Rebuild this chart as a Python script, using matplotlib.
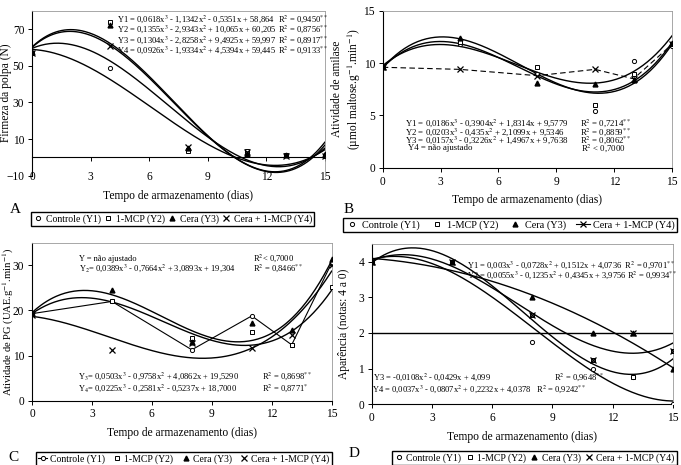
import numpy as np
import matplotlib
matplotlib.use('Agg')
import matplotlib.pyplot as plt
from matplotlib.lines import Line2D

plt.rcParams['font.family'] = ['Liberation Serif', 'DejaVu Serif']
plt.rcParams['mathtext.fontset'] = 'stix'

days = [0, 4, 8, 11, 13, 15]
xticks = [0, 3, 6, 9, 12, 15]

# Panel A - firmeza da polpa (N)
a_y1 = [57, 49, 4.5, 3, 1.5, 1.5]
a_y2 = [57, 74, 3.5, 3.5, 1.5, 1]
a_y3 = [57.5, 72, 5, 2, 1.5, 2]
a_y4 = [57, 61, 5.5, 3, 1, 1]
a_coef = [[0.0618, -1.1342, -0.5351, 58.864],
          [0.1355, -2.9343, 10.065, 60.205],
          [0.1304, -2.8258, 9.4925, 59.997],
          [0.0926, -1.9334, 4.5394, 59.445]]

# Panel B - atividade de amilase
b_y1 = [9.6, 11.8, 9.0, 5.4, 10.2, 11.6]
b_y2 = [9.6, 12.0, 9.6, 6.0, 9.0, 11.8]
b_y3 = [9.6, 12.4, 8.1, 8.0, 8.4, 11.9]
b_y4 = [9.6, 9.4, 8.8, 9.4, 8.5, 11.8]
b_coef = [[0.0186, -0.3904, 1.8314, 9.5779],
          [0.0203, -0.435, 2.1099, 9.5346],
          [0.0157, -0.3226, 1.4967, 9.7638]]

# Panel C - atividade de PG
c_y1 = [19.3, 22.0, 11.3, 18.8, 12.4, 30.5]
c_y2 = [19.5, 22.0, 13.8, 15.3, 12.4, 25.3]
c_y3 = [19.5, 24.5, 13.0, 17.3, 15.7, 31.5]
c_y4 = [19.0, 11.3, 12.8, 11.6, 14.6, 30.0]
c_coef = [[0.0389, -0.7664, 3.0893, 19.304],
          [0.0503, -0.9758, 4.0862, 19.5290],
          [0.0225, -0.2581, -0.5237, 18.7000]]

# Panel D - aparencia (notas 4 a 0)
d_y1 = [4, 4, 1.75, 1.0, 0.75, 0]
d_y2 = [4, 4, 2.5, 1.25, 0.75, 1.5]
d_y3 = [4, 4, 3.0, 2.0, 2.0, 1.0]
d_y4 = [4, 4, 2.5, 1.25, 2.0, 1.5]
d_coef = [[0.003, -0.0728, 0.1512, 4.0736],
          [0.0055, -0.1235, 0.4345, 3.9756],
          [0, -0.0108, -0.0429, 4.099],
          [0.0037, -0.0807, 0.2232, 4.0378]]

labels = ['Controle (Y1)', '1-MCP (Y2)', 'Cera (Y3)', 'Cera + 1-MCP (Y4)']
xs = np.linspace(0, 15, 200)
EQ = 6.1

fig = plt.figure(figsize=(6.81, 4.65), dpi=100)

mk = dict(ls='none', color='black', zorder=5)
m1 = dict(marker='o', ms=3, mfc='white', mec='black', mew=0.7)
m2 = dict(marker='s', ms=3, mfc='white', mec='black', mew=0.7)
m3 = dict(marker='^', ms=3.5, mfc='black', mec='black')
m4 = dict(marker='x', ms=4, mec='black', mew=0.9)


def style(ax, ylim, yticks, ylabel, lx, yfs=8.3):
    ax.set_xlim(0, 15)
    ax.set_ylim(*ylim)
    ax.set_xticks(xticks)
    ax.set_yticks(yticks)
    ax.tick_params(labelsize=8.3, length=3, width=0.7, pad=2.5)
    for s in ['top', 'right']:
        ax.spines[s].set_color('#999999')
        ax.spines[s].set_linewidth(0.6)
    ax.set_xlabel('Tempo de armazenamento (dias)', fontsize=8.3, labelpad=5)
    ax.set_ylabel(ylabel, fontsize=yfs)
    ax.yaxis.set_label_coords(lx, 0.5)


def plot_points(ax, ys):
    for y, m in zip(ys, [m1, m2, m3, m4]):
        ax.plot(days, y, **mk, **m)


def fig_legend(cx, cy, handles, fs=7.0, cs=0.5, hl=0.9):
    fig.legend(handles=handles, labels=labels, loc='center', bbox_to_anchor=(cx, cy),
               ncol=4, fontsize=fs, frameon=True, fancybox=False, edgecolor='black',
               handlelength=hl, handletextpad=0.3, columnspacing=cs,
               borderpad=0.25, borderaxespad=0, framealpha=1)


def h(line=None, **m):
    return Line2D([], [], color='black', ls=line if line else 'none', lw=0.8, **m)


# ---- A
ax = fig.add_axes([0.047, 0.622, 0.430, 0.355])
for c in a_coef:
    ax.plot(xs, np.polyval(c, xs), color='black', lw=1.0)
plot_points(ax, [a_y1, a_y2, a_y3, a_y4])
style(ax, (-10, 80), [-10, 10, 30, 50, 70], 'Firmeza da polpa (N)', -0.07)
ax.spines['bottom'].set_position(('data', 0))
ax.tick_params(axis='x', pad=7)
a_txt = [('Y1 = 0,0618x$^3$ - 1,1342x$^2$ - 0,5351x + 58,864', 'R$^2$ = 0,9450$^{**}$'),
         ('Y2 = 0,1355x$^3$ - 2,9343x$^2$ + 10,065x + 60,205', 'R$^2$ = 0,8756$^{**}$'),
         ('Y3 = 0,1304x$^3$ - 2,8258x$^2$ + 9,4925x + 59,997', 'R$^2$ = 0,8917$^{**}$'),
         ('Y4 = 0,0926x$^3$ - 1,9334x$^2$ + 4,5394x + 59,445', 'R$^2$ = 0,9133$^{**}$')]
for i, (e, r) in enumerate(a_txt):
    ax.text(4.35, 75.4 - i * 5.6, e, fontsize=EQ, va='center')
    ax.text(12.6, 75.4 - i * 5.6, r, fontsize=EQ, va='center')
fig.text(0.015, 0.543, 'A', fontsize=11)
fig_legend(0.254, 0.529, [h(**m1), h(**m2), h(**m3), h(**m4)], cs=0.35)

# ---- B
ax = fig.add_axes([0.562, 0.639, 0.425, 0.338])
for c in b_coef:
    ax.plot(xs, np.polyval(c, xs), color='black', lw=1.0)
ax.plot(days, b_y4, color='black', ls='--', lw=0.8, dashes=(5, 3), zorder=4)
plot_points(ax, [b_y1, b_y2, b_y3, b_y4])
style(ax, (0, 15), [0, 5, 10, 15],
      'Atividade de amilase\n(µmol maltose.g$^{-1}$.min$^{-1}$)', -0.069)
b_txt = [('Y1 = 0,0186x$^3$ - 0,3904x$^2$ + 1,8314x + 9,5779', 'R$^2$ = 0,7214$^{**}$'),
         ('Y2 = 0,0203x$^3$ - 0,435x$^2$ + 2,1099x + 9,5346', 'R$^2$ = 0,8859$^{**}$'),
         ('Y3 = 0,0157x$^3$ - 0,3226x$^2$ + 1,4967x + 9,7638', 'R$^2$ = 0,8062$^{**}$')]
for i, (e, r) in enumerate(b_txt):
    ax.text(1.14, 4.25 - i * 0.8, e, fontsize=EQ + 0.2, va='center')
    ax.text(10.2, 4.25 - i * 0.8, r, fontsize=EQ + 0.2, va='center')
ax.text(1.3, 1.85, 'Y4 = não ajustado', fontsize=EQ + 0.2, va='center')
ax.text(10.3, 1.85, 'R$^2$ < 0,7000', fontsize=EQ + 0.2, va='center')
fig.text(0.504, 0.543, 'B', fontsize=11)
fig_legend(0.749, 0.516, [h(**m1), h(**m2), h(**m3), h(line='-', **m4)],
           fs=7.4, cs=1.0, hl=1.3)

# ---- C
ax = fig.add_axes([0.047, 0.138, 0.440, 0.340])
for c in c_coef:
    ax.plot(xs, np.polyval(c, xs), color='black', lw=1.0)
ax.plot(days, c_y1, color='black', lw=0.8, zorder=4)
plot_points(ax, [c_y1, c_y2, c_y3, c_y4])
style(ax, (0, 35), [0, 10, 20, 30], 'Atividade de PG (UAE.g$^{-1}$.min$^{-1}$)', -0.055,
      yfs=7.6)
ax.text(2.35, 31.5, 'Y = não ajustado', fontsize=EQ, va='center')
ax.text(11.05, 31.5, 'R$^2$< 0,7000', fontsize=EQ, va='center')
ax.text(2.35, 29.3, 'Y$_2$= 0,0389x$^3$ - 0,7664x$^2$ + 3,0893x + 19,304', fontsize=EQ, va='center')
ax.text(11.05, 29.3, 'R$^2$ = 0,8466$^{**}$', fontsize=EQ, va='center')
ax.text(2.3, 5.5, 'Y$_3$= 0,0503x$^3$ - 0,9758x$^2$ + 4,0862x + 19,5290', fontsize=EQ, va='center')
ax.text(11.5, 5.5, 'R$^2$ = 0,8698$^{**}$', fontsize=EQ, va='center')
ax.text(2.3, 2.9, 'Y$_4$= 0,0225x$^3$ - 0,2581x$^2$ - 0,5237x + 18,7000', fontsize=EQ, va='center')
ax.text(11.5, 2.9, 'R$^2$ = 0,8771$^{*}$', fontsize=EQ, va='center')
fig.text(0.012, 0.008, 'C', fontsize=11)
fig_legend(0.270, 0.013, [h(line='-', **m1), h(**m2), h(**m3), h(**m4)], cs=0.8)

# ---- D
ax = fig.add_axes([0.546, 0.131, 0.442, 0.344])
ax.axhline(2, color='black', lw=1.0)
for c in d_coef:
    ax.plot(xs, np.polyval(c, xs), color='black', lw=1.0)
plot_points(ax, [d_y1, d_y2, d_y3, d_y4])
style(ax, (0, 4.5), [0, 1, 2, 3, 4], 'Aparência (notas: 4 a 0)', -0.073)
ax.text(4.73, 3.92, 'Y1 = 0,003x$^3$ - 0,0728x$^2$ + 0,1512x + 4,0736  R$^2$ = 0,9701$^{**}$',
        fontsize=EQ, va='center')
ax.text(4.73, 3.63, 'Y2 = 0,0055x$^3$ - 0,1235x$^2$ + 0,4345x + 3,9756 R$^2$ = 0,9934$^{**}$',
        fontsize=EQ, va='center')
ax.text(0.05, 0.76, 'Y3 = -0,0108x$^2$ - 0,0429x + 4,099', fontsize=EQ, va='center')
ax.text(9.1, 0.76, 'R$^2$ = 0,9648$^{**}$', fontsize=EQ, va='center')
ax.text(0.0, 0.42, 'Y4 = 0,0037x$^3$ - 0,0807x$^2$ + 0,2232x + 4,0378   R$^2$ = 0,9242$^{**}$',
        fontsize=EQ, va='center')
fig.text(0.512, 0.018, 'D', fontsize=11)
fig_legend(0.785, 0.015, [h(**m1), h(**m2), h(**m3), h(**m4)], cs=0.4)

fig.savefig('out.png', dpi=100)
